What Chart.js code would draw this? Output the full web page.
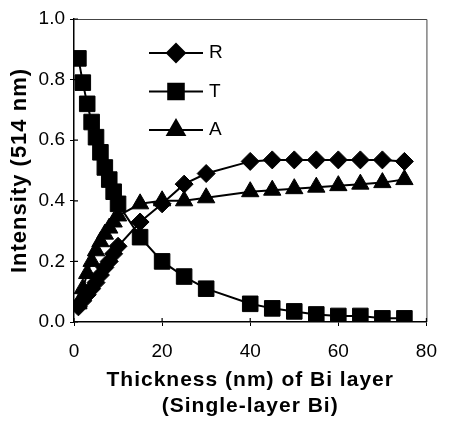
<!DOCTYPE html>
<html>
<head>
<meta charset="utf-8">
<script src="https://cdn.jsdelivr.net/npm/chart.js@4"></script>
<style>
  html, body { margin: 0; padding: 0; background: #ffffff; }
  canvas { display: block; }
</style>
</head>
<body>
<canvas id="chart" width="451" height="422"></canvas>
<script>
// thickness of the Bi layer (nm)
const thickness = [1, 2, 3, 4, 5, 6, 7, 8, 9, 10, 15, 20, 25, 30, 40, 45, 50, 55, 60, 65, 70, 75];
// intensities at 514 nm
const reflR = [0.05, 0.07, 0.09, 0.11, 0.13, 0.155, 0.18, 0.20, 0.225, 0.25, 0.33, 0.39, 0.455, 0.49, 0.53, 0.535, 0.535, 0.535, 0.535, 0.535, 0.535, 0.53];
const transT = [0.87, 0.79, 0.72, 0.66, 0.61, 0.56, 0.51, 0.47, 0.43, 0.39, 0.28, 0.20, 0.15, 0.11, 0.06, 0.045, 0.035, 0.025, 0.02, 0.02, 0.012, 0.012];
const absA = [0.06, 0.11, 0.16, 0.20, 0.235, 0.265, 0.29, 0.31, 0.33, 0.35, 0.39, 0.40, 0.40, 0.41, 0.43, 0.435, 0.44, 0.445, 0.45, 0.455, 0.46, 0.47];
const seriesNames = ['R', 'T', 'A'];
const xTitle = ['Thickness (nm) of Bi layer', '(Single-layer Bi)'];
const yTitle = 'Intensity (514 nm)';

const fontFamily = '"Liberation Sans", Arial, Helvetica, sans-serif';

function toPoints(vals) {
    return vals.map((v, i) => ({ x: thickness[i], y: v }));
}

// the axis titles are drawn in the grid layer (before datasets), tick labels later (z: 1)
// so a bit of letter spacing only hits the titles
const titleSpacing = {
    id: 'titleSpacing',
    beforeDraw(chart) { chart.ctx.letterSpacing = '1px'; },
    beforeDatasetsDraw(chart) { chart.ctx.letterSpacing = '0px'; }
};

// frame on top/right plus inner half of the tick marks
const framePlugin = {
    id: 'frame',
    afterDraw(chart) {
        const { ctx, chartArea: a, scales } = chart;
        ctx.save();
        ctx.strokeStyle = '#444';
        ctx.lineWidth = 1;
        ctx.beginPath();
        ctx.moveTo(a.left, a.top + 0.5);
        ctx.lineTo(a.right + 0.5, a.top + 0.5);
        ctx.lineTo(a.right + 0.5, a.bottom);
        ctx.stroke();
        ctx.strokeStyle = '#000';
        ctx.lineWidth = 1.2;
        ctx.beginPath();
        scales.x.ticks.forEach(t => {
            const px = scales.x.getPixelForValue(t.value);
            ctx.moveTo(px, a.bottom);
            ctx.lineTo(px, a.bottom - 4);
        });
        scales.y.ticks.forEach(t => {
            const py = scales.y.getPixelForValue(t.value);
            ctx.moveTo(a.left, py);
            ctx.lineTo(a.left + 4, py);
        });
        ctx.stroke();
        ctx.restore();
    }
};

// legend drawn inside the plot area, top-left
const insideLegend = {
    id: 'insideLegend',
    afterDatasetsDraw(chart) {
        const { ctx, chartArea: a } = chart;
        ctx.save();
        chart.data.datasets.forEach((ds, i) => {
            const y = a.top + 34 + i * 38.5;
            const x0 = a.left + 75;
            const x1 = a.left + 129;
            ctx.strokeStyle = '#000';
            ctx.lineWidth = 2;
            ctx.beginPath();
            ctx.moveTo(x0, y);
            ctx.lineTo(x1, y);
            ctx.stroke();
            ctx.fillStyle = '#000';
            Chart.helpers.drawPoint(ctx, {
                pointStyle: ds.pointStyle,
                radius: ds.pointRadius,
                rotation: 0,
                borderWidth: 1
            }, (x0 + x1) / 2, y);
            ctx.font = '19px ' + fontFamily;
            ctx.textBaseline = 'middle';
            ctx.textAlign = 'left';
            ctx.fillText(ds.label, x1 + 6, y);
        });
        ctx.restore();
    }
};

function makeSet(label, vals, style, radius) {
    return {
        label: label,
        data: toPoints(vals),
        borderColor: '#000',
        backgroundColor: '#000',
        borderWidth: 2,
        pointStyle: style,
        pointRadius: radius,
        pointBorderWidth: 1,
        pointBackgroundColor: '#000',
        pointBorderColor: '#000',
        tension: 0
    };
}

new Chart(document.getElementById('chart'), {
    type: 'line',
    data: {
        datasets: [
            makeSet(seriesNames[0], reflR, 'rectRot', 9),
            makeSet(seriesNames[1], transT, 'rect', 11),
            makeSet(seriesNames[2], absA, 'triangle', 10)
        ]
    },
    options: {
        responsive: false,
        animation: false,
        devicePixelRatio: 1,
        layout: {
            padding: { top: 19, right: 13, left: 0, bottom: 0 }
        },
        plugins: {
            legend: { display: false },
            tooltip: { enabled: false }
        },
        scales: {
            x: {
                type: 'linear',
                min: 0,
                max: 80,
                afterFit: (scale) => { scale.height = 100; },
                border: { color: '#000', width: 1.5 },
                grid: { drawOnChartArea: false, tickLength: 4, color: '#000' },
                ticks: {
                    z: 1,
                    stepSize: 20,
                    color: '#000',
                    padding: 14,
                    maxRotation: 0,
                    font: { family: fontFamily, size: 19 }
                },
                title: {
                    display: true,
                    text: xTitle,
                    color: '#000',
                    font: { family: fontFamily, size: 21, weight: 'bold', lineHeight: 1.24 },
                    padding: { top: 0, bottom: 3 }
                }
            },
            y: {
                min: 0,
                max: 1,
                afterFit: (scale) => { scale.width = 74; },
                border: { color: '#000', width: 1.5 },
                grid: { drawOnChartArea: false, tickLength: 4, color: '#000' },
                ticks: {
                    z: 1,
                    stepSize: 0.2,
                    color: '#000',
                    padding: 5,
                    font: { family: fontFamily, size: 19 },
                    callback: (v) => v.toFixed(1)
                },
                title: {
                    display: true,
                    text: yTitle,
                    color: '#000',
                    font: { family: fontFamily, size: 22, weight: 'bold', lineHeight: 1.2 },
                    padding: { top: 7, bottom: 0 }
                }
            }
        }
    },
    plugins: [titleSpacing, framePlugin, insideLegend]
});
</script>
</body>
</html>
